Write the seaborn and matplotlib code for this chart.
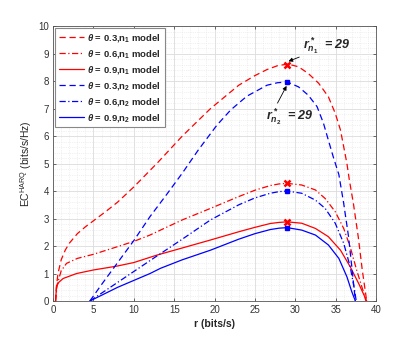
import seaborn as sns
import matplotlib
matplotlib.use("Agg")
import matplotlib.pyplot as plt
from matplotlib.ticker import MultipleLocator
import pandas as pd

# values
r_red_dash = [0.3, 0.4, 0.6, 1.0, 1.5, 2, 3, 4, 5, 6.5, 8, 10, 13, 16, 19.5, 23, 25, 26.5, 27.8, 29.1,
              30.4, 31.6, 32.9, 34.1, 34.95, 35.6, 36.0, 36.4, 36.7, 37.2, 37.8, 38.3, 38.85]
ec_red_dash = [0, 0.5, 1.0, 1.5, 1.85, 2.1, 2.45, 2.7, 2.92, 3.25, 3.6, 4.15, 5.05, 6.0, 7.0, 7.85, 8.2,
               8.42, 8.56, 8.62, 8.52, 8.28, 7.92, 7.43, 6.83, 6.22, 5.61, 5.0, 4.4, 3.55, 2.34, 1.13, 0]

r_red_dd = [0.3, 0.5, 1, 1.66, 3, 5, 7.9, 10, 12, 13.3, 16, 19.5, 23, 25, 26.9, 28, 29,
            30.8, 32.5, 33.7, 34.95, 36.0, 36.8, 37.6, 38.5, 38.75]
ec_red_dd = [0, 0.6, 1.1, 1.37, 1.55, 1.7, 1.97, 2.17, 2.4, 2.58, 2.95, 3.37, 3.8, 4.03, 4.2, 4.26, 4.28,
             4.22, 4.04, 3.73, 3.25, 2.64, 1.97, 1.13, 0.28, 0]

r_red_sol = [0.3, 0.42, 0.7, 1.24, 2.9, 5, 7.9, 10, 12.85, 16, 19.5, 23, 25, 26.9, 28, 29,
             30.8, 32.5, 34.1, 35.6, 36.8, 37.85, 38.85]
ec_red_sol = [0, 0.52, 0.68, 0.82, 1.0, 1.13, 1.27, 1.4, 1.67, 1.93, 2.22, 2.52, 2.68, 2.82, 2.86, 2.88,
              2.83, 2.64, 2.34, 1.85, 1.25, 0.64, 0]

r_blue_dash = [4.55, 6, 8, 10, 12, 14, 16, 18, 20.3, 22, 24, 26.5, 27.8, 29,
               30.4, 31.6, 32.7, 33.5, 34.1, 34.7, 35.4, 36.0, 36.6, 37.0, 37.45]
ec_blue_dash = [0, 0.6, 1.4, 2.2, 3.07, 3.85, 4.65, 5.5, 6.4, 6.95, 7.45, 7.85, 7.94, 7.97,
                7.79, 7.49, 7.07, 6.46, 5.85, 5.25, 4.6, 3.55, 2.34, 1.25, 0]

r_blue_dd = [4.55, 8, 12, 16, 19.5, 23, 25, 26.9, 28, 29,
             30.8, 32.5, 33.7, 34.95, 36.0, 36.8, 37.35, 37.55]
ec_blue_dd = [0, 0.68, 1.47, 2.25, 2.95, 3.5, 3.75, 3.92, 3.98, 4.0,
              3.92, 3.67, 3.37, 2.83, 2.1, 1.25, 0.4, 0]

r_blue_sol = [4.55, 8, 12, 13.3, 16, 19.5, 23, 25, 26.9, 28, 29,
              30.8, 32.5, 34.1, 35.4, 36.4, 37.0, 37.45]
ec_blue_sol = [0, 0.5, 1.0, 1.19, 1.5, 1.85, 2.25, 2.45, 2.6, 2.65, 2.67,
               2.58, 2.4, 2.04, 1.55, 0.88, 0.34, 0]

r_opt = 29
peak_red = [8.6, 4.28, 2.88]
peak_blue = [7.97, 4.01, 2.67]

labels = [r"$\theta$ = 0.3,n$_\mathrm{1}$ model", r"$\theta$ = 0.6,n$_\mathrm{1}$ model",
          r"$\theta$ = 0.9,n$_\mathrm{1}$ model", r"$\theta$ = 0.3,n$_\mathrm{2}$ model",
          r"$\theta$ = 0.6,n$_\mathrm{2}$ model", r"$\theta$ = 0.9,n$_\mathrm{2}$ model"]

sns.set_theme(style="ticks")
plt.rcParams['font.family'] = ['Liberation Sans', 'DejaVu Sans']
plt.rcParams['mathtext.fontset'] = 'custom'
plt.rcParams['mathtext.it'] = 'Liberation Sans:bold:italic'
plt.rcParams['mathtext.rm'] = 'Liberation Sans:bold'
plt.rcParams['mathtext.bf'] = 'Liberation Sans:bold'

fig = plt.figure(figsize=(4.15, 3.39), dpi=100)
ax = fig.add_axes([0.128, 0.112, 0.778, 0.811])

series = [(r_red_dash, ec_red_dash, "red", (0, (5, 3))),
          (r_red_dd, ec_red_dd, "red", (0, (5, 2, 1, 2))),
          (r_red_sol, ec_red_sol, "red", "-"),
          (r_blue_dash, ec_blue_dash, "blue", (0, (5, 3))),
          (r_blue_dd, ec_blue_dd, "blue", (0, (5, 2, 1, 2))),
          (r_blue_sol, ec_blue_sol, "blue", "-")]

for (x, y, c, ls), lab in zip(series, labels):
    df = pd.DataFrame({"r": x, "ec": y})
    sns.lineplot(data=df, x="r", y="ec", color=c, linestyle=ls, linewidth=0.9,
                 ax=ax, label=lab)

# optimum markers
for p in peak_red:
    ax.plot(r_opt, p, marker="x", color="red", markersize=4, mew=1.8)
for p in peak_blue:
    ax.plot(r_opt, p, marker="s", color="blue", markersize=3)

ax.annotate(r"$r^*_{n_1}$  = 29", xy=(r_opt, peak_red[0] + 0.1), xytext=(30.9, 9.15),
            fontsize=9, fontweight="bold", fontstyle="italic",
            arrowprops=dict(arrowstyle="-|>", color="black", lw=0.6, mutation_scale=6,
                            shrinkA=0, shrinkB=1))
ax.annotate(r"$r^*_{n_2}$  = 29", xy=(r_opt, peak_blue[0] - 0.1), xytext=(26.4, 6.6),
            fontsize=9, fontweight="bold", fontstyle="italic",
            arrowprops=dict(arrowstyle="-|>", color="black", lw=0.6, mutation_scale=6,
                            shrinkA=0, shrinkB=1, relpos=(0.2, 1.0)))

ax.set_xlim(0, 40)
ax.set_ylim(0, 10)
ax.xaxis.set_major_locator(MultipleLocator(5))
ax.yaxis.set_major_locator(MultipleLocator(1))
ax.xaxis.set_minor_locator(MultipleLocator(1))
ax.yaxis.set_minor_locator(MultipleLocator(0.2))
ax.grid(True, which="major", color="#dcdcdc", linewidth=0.6)
ax.grid(True, which="minor", color="#e4e4e4", linewidth=0.5, linestyle=":")
ax.tick_params(which="both", direction="in", labelsize=7, length=2, width=0.5, colors="#333333",
               top=True, right=True, pad=3)
ax.tick_params(which="minor", length=0)
for s in ax.spines.values():
    s.set_color("#555555")
    s.set_linewidth(0.6)

ax.set_xlabel("r (bits/s)", fontsize=7.5, fontweight="bold", labelpad=3)
ax.set_ylabel(r"EC$^{\mathregular{HARQ}}$ (bits/s/Hz)", fontsize=7.5, labelpad=3)

leg = ax.legend(loc="upper left", prop={"weight": "bold", "size": 6.8},
                handlelength=2.7, handletextpad=0.3, borderaxespad=0.2, labelspacing=0.42,
                fancybox=False, framealpha=1, edgecolor="#888888")
leg.get_frame().set_linewidth(0.8)

fig.savefig("out.png", dpi=100)
